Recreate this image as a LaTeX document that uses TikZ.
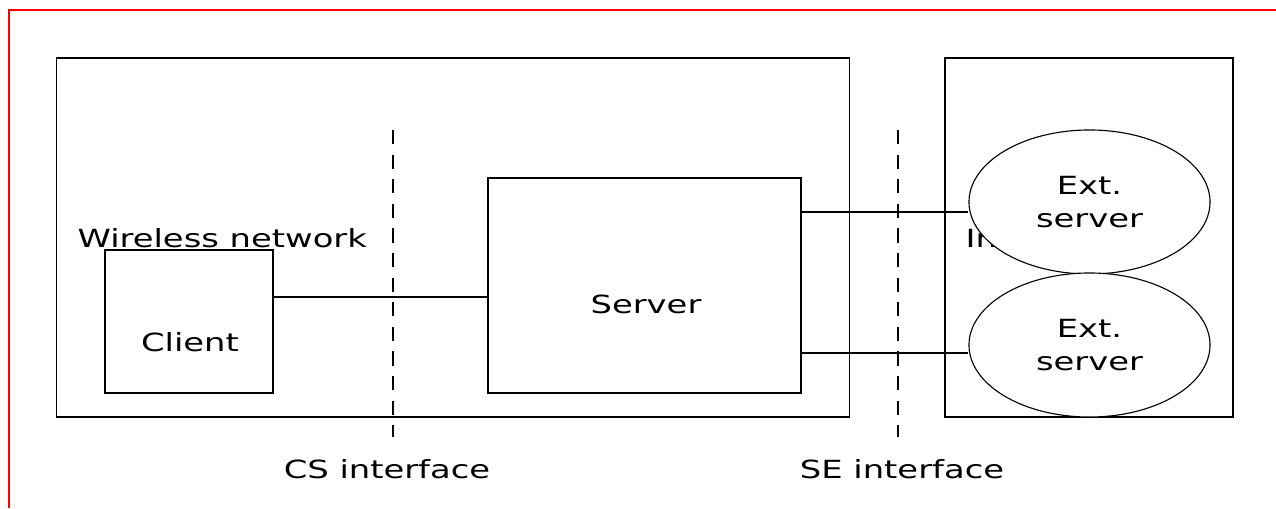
\documentclass[tikz,border=0pt]{standalone}
\usepackage{fontspec}
\setmainfont{DejaVu Sans}[FakeStretch=1.35]
\usetikzlibrary{shapes.geometric}
\definecolor{framered}{RGB}{255,0,0}

\begin{document}
\begin{tikzpicture}[x=0.025cm, y=-0.025cm, line width=0.8pt,
  every node/.style={font=\fontsize{17.8}{23}\selectfont},
  box/.style={draw, inner sep=0pt},
  extserver/.style={draw, fill=white, ellipse, inner sep=0pt, align=center,
    minimum width=6.025cm, minimum height=3.6cm},
  iface/.style={dash pattern=on 10pt off 7.5pt}]
  \useasboundingbox (0,0) rectangle (1276,508);
  \draw[framered, line width=1pt] (9,508) -- (9,10) -- (1276,10);
  % network areas
  \node[box, minimum width=19.8cm, minimum height=8.975cm] (wireless) at (453,237.5) {};
  \node[box, minimum width=7.2cm, minimum height=8.975cm] (internet) at (1089,237.5) {};
  \node[anchor=base west, inner sep=0pt] (wlabel) at (77,247) {Wireless network};
  \node[anchor=base west, inner sep=0pt] (ilabel) at (965,247) {Internet};
  % hosts
  \node[box, minimum width=4.2cm, minimum height=3.575cm] (client) at (189,321.5) {};
  \node (clientlabel) at (190,342) {Client};
  \node[box, minimum width=7.825cm, minimum height=5.375cm] (server) at (644.5,285.5) {};
  \node (serverlabel) at (646,304) {Server};
  \node[extserver] (ext1) at (1089.5,202) {Ext.\\[1pt]server};
  \node[extserver] (ext2) at (1089.5,345) {Ext.\\[1pt]server};
  % interfaces
  \coordinate (cstop) at (393,130);
  \coordinate (csbot) at (393,437);
  \coordinate (setop) at (898,130);
  \coordinate (sebot) at (898,437);
  \draw[iface] (cstop) -- (csbot);
  \draw[iface] (setop) -- (sebot);
  \node (cslabel) at (387,469) {CS interface};
  \node (selabel) at (902,469) {SE interface};
  % links
  \draw ([yshift=0.6125cm]client.east) -- ([yshift=0.6125cm]client.east -| server.west);
  \draw ([yshift=1.8375cm]server.east) -- ([yshift=1.8375cm]server.east -| ext1.west);
  \draw ([yshift=-1.6875cm]server.east) -- ([yshift=-1.6875cm]server.east -| ext2.west);
\end{tikzpicture}
\end{document}
